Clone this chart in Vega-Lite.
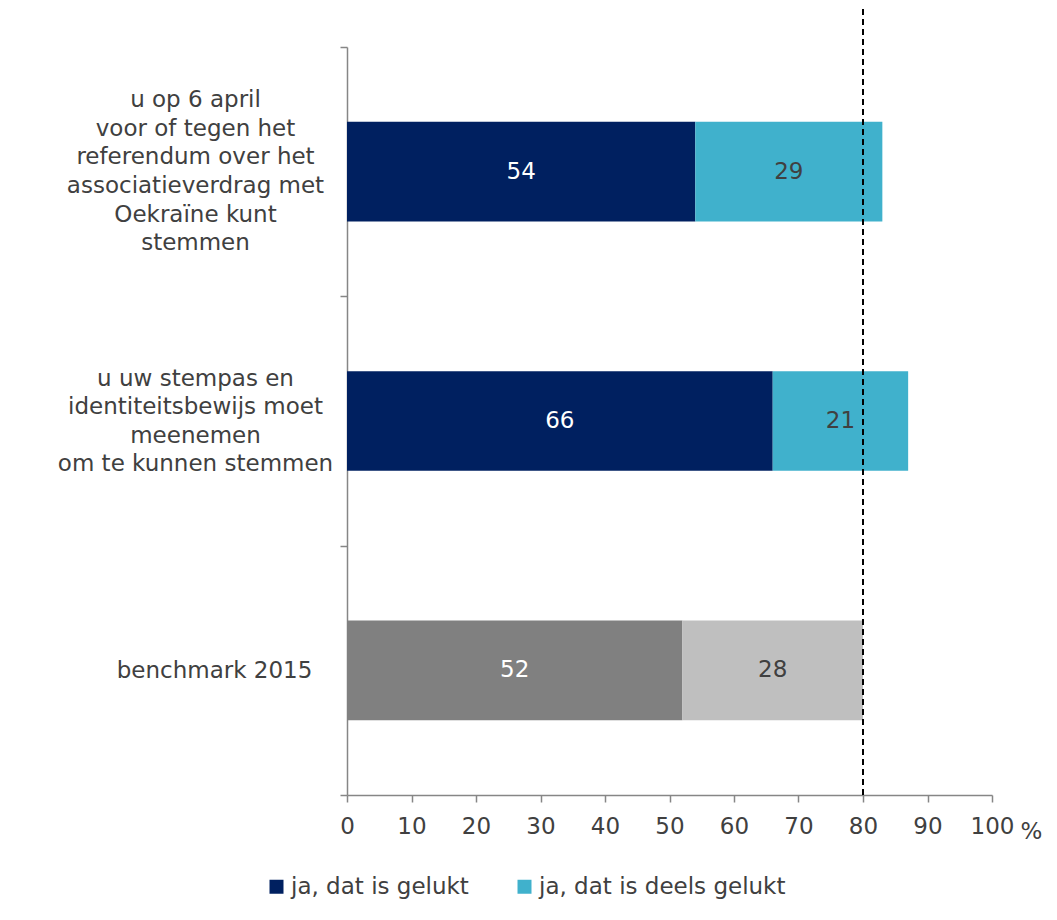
{
  "$schema": "https://vega.github.io/schema/vega-lite/v6.json",
  "width": 645,
  "height": 748,
  "padding": {"top": 5, "left": 57, "right": 5, "bottom": 5},
  "background": "white",
  "config": {
    "font": "DejaVu Sans",
    "view": {"stroke": null}
  },
  "layer": [
    {
      "data": {
        "values": [
          {"cat": "u op 6 april|voor of tegen het|referendum over het|associatieverdrag met|Oekraïne kunt|stemmen", "serie": "ja, dat is gelukt", "value": 54, "order": 1},
          {"cat": "u op 6 april|voor of tegen het|referendum over het|associatieverdrag met|Oekraïne kunt|stemmen", "serie": "ja, dat is deels gelukt", "value": 29, "order": 2},
          {"cat": "u uw stempas en|identiteitsbewijs moet|meenemen|om te kunnen stemmen", "serie": "ja, dat is gelukt", "value": 66, "order": 1},
          {"cat": "u uw stempas en|identiteitsbewijs moet|meenemen|om te kunnen stemmen", "serie": "ja, dat is deels gelukt", "value": 21, "order": 2},
          {"cat": "benchmark 2015", "serie": "benchmark: gelukt", "value": 52, "order": 1},
          {"cat": "benchmark 2015", "serie": "benchmark: deels gelukt", "value": 28, "order": 2}
        ]
      },
      "encoding": {
        "y": {
          "field": "cat",
          "type": "nominal",
          "sort": null,
          "scale": {"paddingInner": 0, "paddingOuter": 0},
          "axis": {
            "title": null,
            "labelExpr": "split(datum.label, '|')",
            "labelAlign": "center",
            "labelBaseline": "middle",
            "labelPadding": {
              "condition": {"test": "datum.value == 'benchmark 2015'", "value": 126},
              "value": 145
            },
            "labelFontSize": 23,
            "labelLineHeight": 28.6,
            "labelColor": "#404040",
            "labelLimit": 400,
            "labelOffset": {
              "condition": [
                {"test": "length(split(datum.value, '|')) == 6", "value": -72},
                {"test": "length(split(datum.value, '|')) == 4", "value": -43}
              ],
              "value": 0
            },
            "tickBand": "extent",
            "tickSize": 7,
            "tickColor": "#868686",
            "domainColor": "#868686",
            "tickWidth": 1.5,
            "domainWidth": 1.5
          }
        },
        "x": {
          "field": "value",
          "type": "quantitative",
          "stack": "zero",
          "scale": {"domain": [0, 100], "nice": false},
          "axis": {
            "values": [0, 10, 20, 30, 40, 50, 60, 70, 80, 90, 100],
            "grid": false,
            "title": "%",
            "titleX": 684,
            "titleY": 43,
            "titleAlign": "center",
            "titleBaseline": "alphabetic",
            "titleFontSize": 23,
            "titleFontWeight": "normal",
            "titleColor": "#404040",
            "labelFontSize": 23,
            "labelColor": "#404040",
            "labelPadding": 13,
            "labelFlush": false,
            "tickSize": 7,
            "tickColor": "#868686",
            "domainColor": "#868686",
            "tickWidth": 1.5,
            "domainWidth": 1.5
          }
        },
        "order": {"field": "order"}
      },
      "layer": [
        {
          "mark": {"type": "bar", "height": {"band": 0.4}},
          "encoding": {
            "color": {
              "field": "serie",
              "type": "nominal",
              "scale": {
                "domain": ["ja, dat is gelukt", "ja, dat is deels gelukt", "benchmark: gelukt", "benchmark: deels gelukt"],
                "range": ["#002060", "#40B1CC", "#808080", "#BFBFBF"]
              },
              "legend": {
                "values": ["ja, dat is gelukt", "ja, dat is deels gelukt"],
                "title": null,
                "orient": "none",
                "legendX": -82,
                "legendY": 828,
                "direction": "horizontal",
                "symbolType": "square",
                "symbolSize": 196,
                "symbolStrokeWidth": 0,
                "labelFontSize": 23,
                "labelColor": "#404040",
                "labelOffset": 3,
                "columnPadding": 44,
                "padding": 0,
                "labelLimit": 400
              }
            }
          }
        },
        {
          "mark": {"type": "text", "fontSize": 23, "baseline": "middle", "align": "center"},
          "encoding": {
            "x": {"field": "value", "type": "quantitative", "stack": "zero", "bandPosition": 0.5},
            "text": {"field": "value", "type": "quantitative"},
            "color": {
              "condition": {"test": "datum.order == 1", "value": "white"},
              "value": "#404040"
            }
          }
        }
      ]
    },
    {
      "data": {"values": [{"ref": 80}]},
      "mark": {"type": "rule", "strokeDash": [6, 4], "strokeWidth": 2, "color": "black"},
      "encoding": {
        "x": {"field": "ref", "type": "quantitative"},
        "y": {"datum": 0, "type": "quantitative", "scale": {"domain": [0, 1], "nice": false}, "axis": null},
        "y2": {"datum": 1.0535}
      }
    }
  ],
  "resolve": {"scale": {"y": "independent"}, "axis": {"y": "independent"}}
}
